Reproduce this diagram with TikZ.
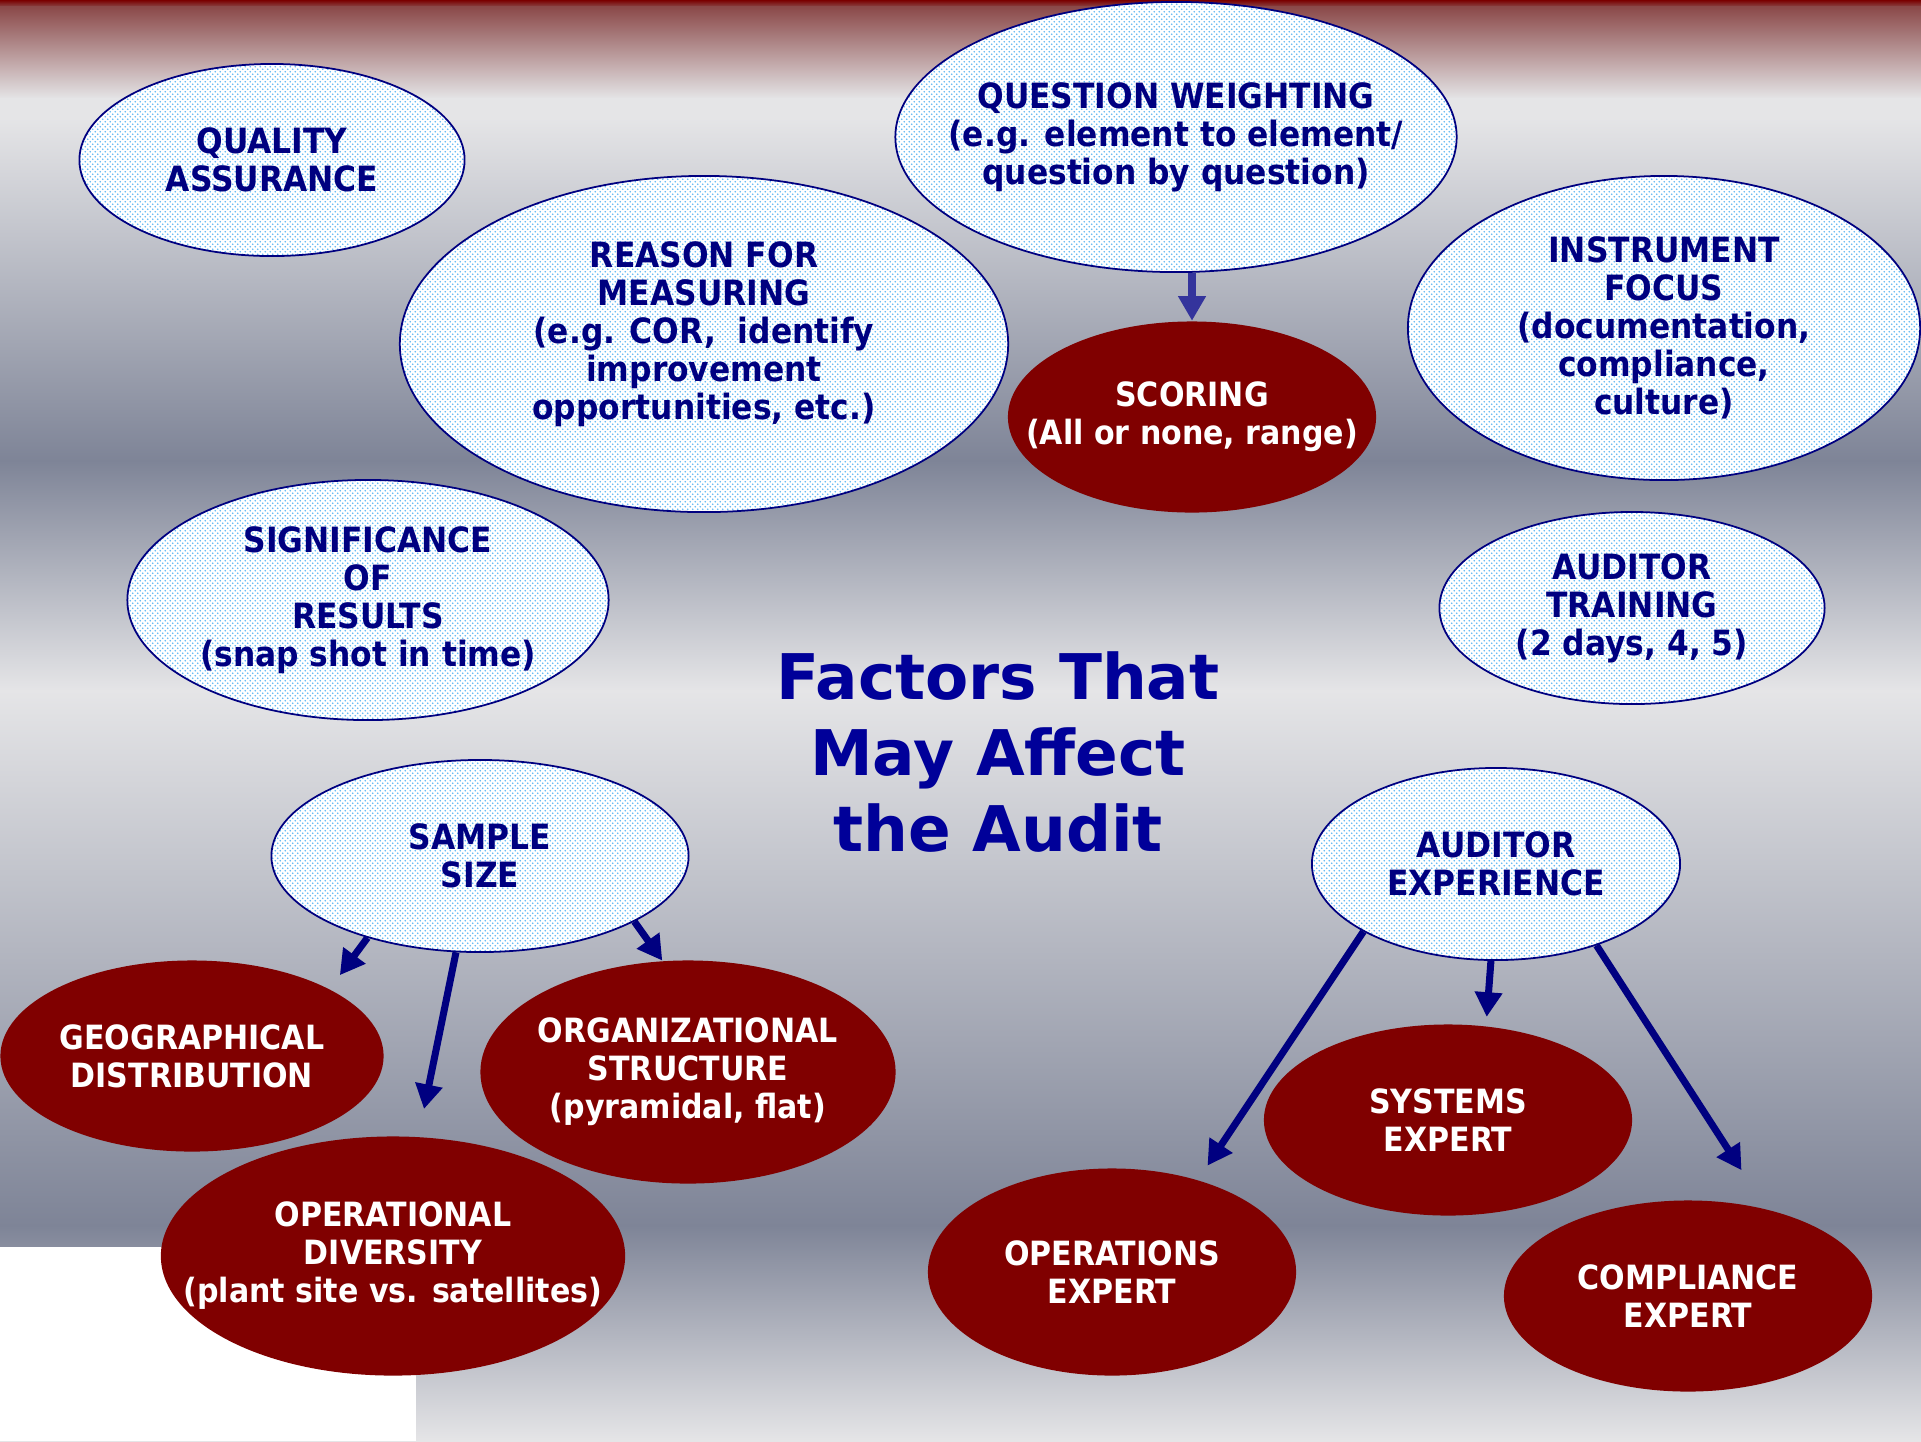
\documentclass[tikz,border=0pt]{standalone}
\usepackage{fontspec}
\setmainfont{DejaVu Sans}
\newfontfamily\labelfont{DejaVu Sans Condensed}[BoldFont={DejaVu Sans Condensed Bold}]
\usetikzlibrary{shapes.geometric, arrows.meta, patterns}

\definecolor{inkblue}{HTML}{000080}
\definecolor{titleblue}{HTML}{000099}
\definecolor{linkblue}{HTML}{34349C}
\definecolor{darkred}{HTML}{800000}
\definecolor{dotblue}{HTML}{5DB7F2}
\definecolor{bgred}{HTML}{7A0000}
\definecolor{bgrose}{HTML}{8A4848}
\definecolor{bglight}{HTML}{E5E5E7}
\definecolor{bgdark}{HTML}{7E8497}

% fine staggered dots for the light bubbles
\pgfdeclarepatternformonly{bubbledots}{\pgfqpoint{0pt}{0pt}}{\pgfqpoint{1.42pt}{1.42pt}}{\pgfqpoint{1.42pt}{1.42pt}}{
  \pgfpathcircle{\pgfqpoint{0.35pt}{0.35pt}}{0.27pt}
  \pgfpathcircle{\pgfqpoint{1.06pt}{1.06pt}}{0.27pt}
  \pgfusepath{fill}
}

\tikzset{
  bubble/.style={ellipse, inner sep=-30pt, align=center, draw=inkblue, line width=0.5pt,
    preaction={fill=white}, pattern=bubbledots, pattern color=dotblue, text=inkblue,
    font=\labelfont\bfseries\fontsize{9.9}{10.8}\selectfont},
  factor/.style={ellipse, inner sep=-30pt, align=center, fill=darkred, text=white,
    font=\labelfont\bfseries\fontsize{9.5}{10.8}\selectfont},
  link/.style={draw=inkblue, line width=2pt, -{Triangle[length=7pt, width=7.5pt]}},
}

\begin{document}
\begin{tikzpicture}[x=0.01cm, y=-0.01cm]
    % Background
    \useasboundingbox (0,0) rectangle (1921,1441);
    \shade[top color=bgred, bottom color=bgrose] (0,0) rectangle (1921,7);
    \shade[top color=bgrose, bottom color=bglight] (0,6) rectangle (1921,99);
    \fill[bglight] (0,98) rectangle (1921,119);
    \shade[top color=bglight, bottom color=bgdark] (0,118) rectangle (1921,461);
    \shade[top color=bgdark, bottom color=bglight] (0,460) rectangle (1921,691);
    \shade[top color=bglight, bottom color=bgdark] (0,690) rectangle (1921,1226);
    \shade[top color=bgdark, bottom color=bglight] (0,1225) rectangle (1921,1441);
    \fill[white] (0,1247) rectangle (416,1441);

    % Nodes
    \node (quality) [bubble, minimum width=3.85cm, minimum height=1.92cm] at (272,160) {QUALITY\\ASSURANCE};
    \node (reason) [bubble, minimum width=6.08cm, minimum height=3.36cm] at (704,344) {REASON FOR\\MEASURING\\(e.g. COR,~ identify\\improvement\\opportunities, etc.)\\[-3.3pt]\mbox{}};
    \node (weighting) [bubble, minimum width=5.61cm, minimum height=2.70cm] at (1176,137) {QUESTION WEIGHTING\\(e.g. element to element/\\question by question)};
    \node (scoring) [factor, minimum width=3.68cm, minimum height=1.91cm] at (1192,417) {SCORING\\(All or none, range)};
    \node (focus) [bubble, minimum width=5.12cm, minimum height=3.04cm] at (1664,328) {INSTRUMENT\\FOCUS\\(documentation,\\compliance,\\culture)};
    \node (significance) [bubble, minimum width=4.81cm, minimum height=2.40cm] at (368,600) {SIGNIFICANCE\\OF\\RESULTS\\(snap shot in time)};
    \node (training) [bubble, minimum width=3.85cm, minimum height=1.92cm] at (1632,608) {AUDITOR\\TRAINING\\(2 days, 4, 5)};
    \node (title) [align=center, text=titleblue, font=\bfseries\fontsize{17.9}{21.5}\selectfont] at (998,752) {Factors That\\May Affect\\the Audit};
    \node (sample) [bubble, minimum width=4.17cm, minimum height=1.92cm] at (480,856) {SAMPLE\\SIZE};
    \node (geo) [factor, minimum width=3.83cm, minimum height=1.91cm] at (192,1056) {GEOGRAPHICAL\\DISTRIBUTION};
    \node (org) [factor, minimum width=4.15cm, minimum height=2.23cm] at (688,1072) {ORGANIZATIONAL\\STRUCTURE\\(pyramidal, flat)};
    \node (opdiv) [factor, minimum width=4.64cm, minimum height=2.39cm] at (393,1256) {OPERATIONAL\\DIVERSITY\\(plant site vs. satellites)};
    \node (experience) [bubble, minimum width=3.68cm, minimum height=1.92cm] at (1496,864) {AUDITOR\\EXPERIENCE};
    \node (systems) [factor, minimum width=3.68cm, minimum height=1.91cm] at (1448,1120) {SYSTEMS\\EXPERT};
    \node (operations) [factor, minimum width=3.68cm, minimum height=2.07cm] at (1112,1272) {OPERATIONS\\EXPERT};
    \node (compliance) [factor, minimum width=3.68cm, minimum height=1.91cm] at (1688,1296) {COMPLIANCE\\EXPERT};

    % Arrows
    \draw[link, draw=linkblue] (scoring.north |- weighting.south) -- (scoring.north);
    \draw[link, shorten >=0.17cm] (sample.216) -- (geo.26);
    \draw[link, shorten >=0.28cm] (sample.256) -- (opdiv.78);
    \draw[link] (sample.337) -- (org.103);
    \draw[link, shorten >=0.09cm] (experience.267) -- (systems.68);
    \draw[link, shorten >=0.17cm] (experience.207) -- (operations.47);
    \draw[link, shorten >=0.46cm] (experience.321) -- (compliance.48);
\end{tikzpicture}
\end{document}
